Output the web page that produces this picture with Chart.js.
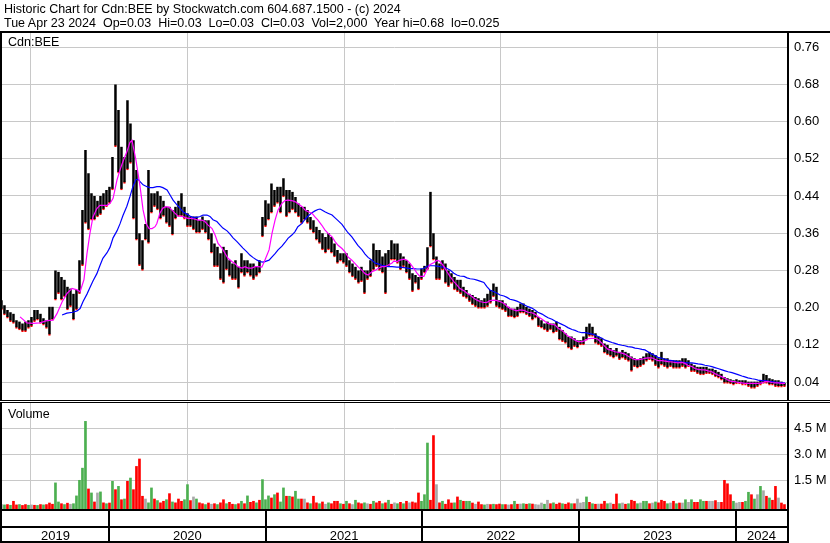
<!DOCTYPE html>
<html><head><meta charset="utf-8">
<script src="https://cdn.jsdelivr.net/npm/chart.js@4/dist/chart.umd.min.js"></script>
<style>
html,body{margin:0;padding:0;background:#fff;}
#wrap{position:relative;width:830px;height:543px;overflow:hidden;font-family:"Liberation Sans",Arial,sans-serif;color:#000;}
#c{position:absolute;left:0;top:0;}
.t{position:absolute;white-space:pre;font-size:12.5px;line-height:14px;}
</style></head><body>
<div id="wrap">
<canvas id="c" width="830" height="543"></canvas>
<div class="t" style="left:4px;top:2px">Historic Chart for Cdn:BEE by Stockwatch.com 604.687.1500 - (c) 2024</div>
<div class="t" style="left:4px;top:15.5px">Tue Apr 23 2024  Op=0.03  Hi=0.03  Lo=0.03  Cl=0.03  Vol=2,000  Year hi=0.68  lo=0.025</div>
<div class="t" style="left:8px;top:34.5px">Cdn:BEE</div>
<div class="t" style="left:8px;top:406.5px">Volume</div>
</div>
<script>
// ---- data (weekly bars, week 0 = late April 2019) ----
const START_YEAR = 2019.314;
const WEEKS_PER_YEAR = 52.25;
const yearStarts = [2020, 2021, 2022, 2023, 2024];
const yearLabels = ['2019', '2020', '2021', '2022', '2023', '2024'];
const priceTicks = [0.04,0.08,0.12,0.16,0.20,0.24,0.28,0.32,0.36,0.40,0.44,0.48,0.52,0.56,0.60,0.64,0.68,0.72,0.76];
const volumeTicks = [1.5, 3.0, 4.5]; // millions

const weeklyHigh = [
 .216,.205,.195,.190,.187,.173,.170,.166,.170,.173,
 .180,.195,.195,.187,.177,.173,.202,.202,.280,.277,
 .266,.260,.245,.241,.230,.238,.302,.410,.539,.489,
 .446,.440,.430,.440,.446,.453,.460,.524,.680,.625,
 .546,.524,.646,.596,.560,.496,.360,.345,.380,.496,
 .446,.446,.450,.440,.430,.417,.417,.410,.417,.430,
 .446,.417,.403,.396,.396,.396,.388,.396,.388,.388,
 .360,.338,.331,.317,.331,.324,.302,.295,.302,.288,
 .317,.302,.302,.295,.295,.288,.302,.395,.431,.424,
 .467,.453,.460,.460,.478,.453,.453,.449,.438,.424,
 .417,.417,.410,.395,.388,.374,.367,.360,.352,.360,
 .352,.338,.324,.317,.317,.317,.302,.295,.288,.280,
 .288,.280,.280,.302,.338,.324,.324,.310,.317,.324,
 .345,.338,.338,.317,.310,.302,.295,.274,.270,.266,
 .284,.290,.330,.449,.360,.310,.295,.302,.295,.280,
 .274,.266,.260,.260,.245,.238,.230,.227,.223,.220,
 .216,.220,.230,.238,.252,.245,.216,.216,.209,.202,
 .198,.198,.202,.209,.209,.202,.198,.195,.191,.180,
 .173,.166,.170,.166,.166,.170,.159,.152,.145,.138,
 .138,.134,.130,.130,.138,.159,.166,.159,.145,.138,
 .134,.123,.120,.113,.109,.113,.105,.109,.105,.102,
 .095,.091,.088,.091,.095,.102,.105,.102,.098,.091,
 .105,.091,.091,.087,.087,.087,.087,.091,.091,.087,
 .080,.076,.073,.073,.073,.073,.069,.069,.066,.062,
 .058,.051,.048,.046,.044,.046,.044,.044,.044,.041,
 .041,.041,.041,.044,.058,.055,.048,.046,.044,.044,
 .041,.038];
const weeklyLow = [
 .195,.184,.177,.170,.166,.155,.152,.148,.148,.155,
 .159,.170,.173,.166,.162,.155,.140,.173,.216,.230,
 .216,.223,.195,.202,.173,.195,.230,.290,.381,.367,
 .388,.388,.395,.400,.410,.417,.424,.453,.546,.489,
 .453,.467,.496,.510,.390,.345,.290,.280,.345,.338,
 .403,.417,.410,.390,.396,.381,.374,.356,.390,.396,
 .396,.390,.374,.374,.367,.360,.360,.367,.360,.345,
 .317,.288,.288,.260,.252,.281,.267,.260,.260,.241,
 .274,.267,.274,.267,.260,.267,.274,.352,.374,.388,
 .403,.417,.424,.403,.438,.395,.403,.410,.403,.395,
 .381,.388,.381,.367,.360,.345,.338,.324,.317,.324,
 .317,.309,.295,.300,.295,.288,.274,.266,.260,.252,
 .256,.230,.260,.266,.280,.288,.280,.274,.230,.288,
 .302,.302,.295,.281,.288,.274,.260,.234,.252,.238,
 .260,.274,.281,.330,.302,.260,.260,.281,.252,.245,
 .252,.238,.234,.230,.223,.220,.213,.206,.202,.198,
 .198,.198,.202,.209,.223,.202,.198,.195,.191,.180,
 .180,.177,.180,.188,.188,.184,.180,.173,.177,.159,
 .156,.152,.148,.152,.145,.148,.130,.127,.123,.113,
 .109,.116,.113,.120,.120,.130,.138,.138,.123,.120,
 .116,.102,.098,.095,.091,.095,.088,.091,.088,.084,
 .063,.073,.070,.073,.077,.084,.088,.084,.075,.069,
 .076,.073,.069,.073,.069,.069,.069,.073,.069,.073,
 .062,.062,.058,.055,.055,.058,.058,.055,.051,.048,
 .044,.037,.037,.036,.033,.036,.036,.033,.033,.030,
 .026,.026,.030,.033,.037,.037,.033,.033,.030,.029,
 .029,.030];

// moving averages: [week, price]
const fastMA = [[6.2,.180],[8.5,.167],[10.5,.166],[12.8,.167],[15.2,.172],[17.2,.173],[18.5,.187],[20.2,.212],[21.8,.230],[23.5,.241],[25.2,.238],[26.2,.234],[27.5,.260],[28.5,.316],[29.5,.360],[30.5,.395],[31.8,.413],[32.8,.420],[33.8,.420],[35.2,.420],[36.2,.424],[37.2,.435],[38.5,.474],[39.5,.496],[40.5,.514],[41.8,.535],[42.8,.555],[43.5,.560],[44.8,.518],[46.2,.460],[47.2,.410],[48.2,.381],[49.2,.370],[50.2,.370],[51.2,.374],[51.8,.381],[52.8,.403],[53.8,.414],[54.8,.417],[55.8,.416],[56.8,.410],[57.8,.403],[58.8,.397],[60.2,.396],[61.2,.394],[62.2,.392],[63.5,.392],[64.5,.390],[65.5,.388],[66.8,.388],[67.8,.385],[68.8,.378],[70.2,.370],[71.2,.356],[72.2,.338],[73.5,.328],[74.5,.317],[75.5,.306],[76.8,.299],[77.8,.295],[78.8,.288],[80.2,.285],[81.2,.288],[82.2,.285],[83.5,.285],[84.5,.288],[85.5,.288],[86.8,.287],[87.8,.302],[89.2,.324],[90.2,.360],[91.2,.388],[92.2,.410],[93.5,.424],[94.5,.430],[95.5,.431],[96.8,.430],[97.8,.428],[98.8,.424],[100.2,.417],[101.2,.410],[102.2,.406],[103.5,.403],[104.5,.395],[105.5,.388],[106.8,.377],[107.8,.367],[108.8,.360],[110.2,.352],[111.2,.342],[112.2,.334],[113.5,.327],[114.5,.320],[115.5,.309],[116.8,.302],[117.8,.295],[118.8,.288],[120.2,.280],[121.2,.273],[122.2,.270],[123.5,.277],[124.5,.280],[125.5,.284],[126.8,.288],[127.8,.288],[128.8,.291],[130.2,.296],[130.8,.300],[131.8,.299],[132.8,.302],[134.2,.304],[135.2,.302],[136.2,.295],[137.5,.284],[138.5,.274],[139.5,.267],[140.8,.267],[141.8,.281],[142.8,.292],[144.2,.297],[145.2,.302],[146.2,.299],[147.5,.288],[148.5,.277],[149.5,.267],[150.8,.256],[151.8,.249],[152.8,.241],[154.2,.236],[155.2,.231],[156.2,.227],[157.5,.220],[158.5,.216],[159.5,.213],[160.8,.211],[161.8,.211],[162.8,.215],[164.2,.216],[165.2,.215],[166.2,.213],[167.5,.209],[168.5,.203],[169.5,.198],[170.8,.195],[171.8,.193],[172.8,.195],[174.2,.194],[175.5,.190],[176.8,.189],[177.8,.186],[178.8,.181],[180.2,.175],[181.2,.170],[182.2,.166],[183.5,.164],[184.5,.163],[185.5,.156],[186.8,.151],[187.8,.145],[188.8,.139],[190.2,.134],[191.2,.130],[192.2,.127],[193.5,.127],[194.5,.129],[195.5,.133],[196.8,.134],[197.8,.134],[198.8,.132],[200.2,.123],[201.2,.116],[202.2,.110],[203.5,.108],[204.5,.105],[205.5,.104],[206.8,.102],[207.8,.100],[208.8,.096],[210.2,.091],[211.2,.088],[212.2,.088],[213.5,.089],[214.5,.091],[215.5,.092],[216.8,.092],[217.8,.089],[218.8,.086],[220.2,.086],[221.2,.085],[222.2,.084],[223.5,.083],[224.5,.082],[225.5,.081],[226.8,.082],[227.8,.080],[228.8,.076],[230.2,.073],[231.2,.069],[232.2,.067],[233.5,.066],[234.5,.066],[235.5,.064],[236.8,.062],[237.8,.058],[238.8,.055],[240.2,.051],[241.2,.048],[242.2,.044],[243.5,.041],[244.5,.041],[245.5,.039],[246.8,.038],[247.8,.037],[248.8,.037],[250.2,.037],[251.2,.037],[252.2,.037],[253.5,.038],[254.5,.041],[255.5,.041],[256.8,.039],[257.8,.038],[258.8,.038],[260.2,.037],[261.2,.037]];
const slowMA = [[20.2,.184],[21.8,.188],[23.8,.190],[25.2,.193],[26.2,.198],[27.2,.213],[28.5,.229],[29.5,.243],[30.5,.257],[31.8,.273],[32.8,.290],[33.8,.306],[35.2,.318],[36.2,.330],[37.2,.350],[38.5,.365],[39.5,.380],[40.5,.398],[41.8,.418],[42.8,.438],[43.8,.460],[44.8,.475],[45.5,.476],[46.2,.471],[47.2,.464],[48.5,.460],[49.5,.458],[50.5,.458],[51.8,.460],[52.8,.460],[53.8,.458],[55.2,.453],[56.2,.442],[57.2,.431],[58.5,.421],[59.5,.414],[60.5,.406],[61.8,.401],[62.8,.397],[63.8,.394],[65.2,.394],[66.2,.396],[67.2,.399],[68.5,.399],[69.5,.396],[70.5,.389],[71.8,.385],[72.8,.378],[73.8,.371],[75.2,.365],[76.2,.358],[77.2,.350],[78.5,.342],[79.5,.335],[80.5,.328],[81.8,.320],[82.8,.313],[83.8,.308],[85.2,.302],[86.2,.299],[87.2,.298],[87.8,.299],[89.2,.302],[90.2,.309],[91.2,.316],[92.2,.324],[93.5,.332],[94.5,.340],[95.5,.349],[96.8,.356],[97.8,.363],[98.8,.374],[100.2,.381],[101.2,.390],[102.2,.397],[103.5,.404],[104.5,.408],[105.5,.411],[106.2,.412],[106.8,.410],[107.8,.406],[108.8,.403],[110.2,.399],[111.2,.393],[112.2,.387],[113.5,.379],[114.5,.370],[115.5,.361],[116.8,.352],[117.8,.343],[118.8,.334],[120.2,.324],[121.2,.315],[122.2,.308],[123.5,.302],[124.5,.296],[125.5,.294],[126.8,.291],[127.8,.290],[128.8,.288],[130.2,.288],[131.8,.287],[132.8,.287],[134.2,.286],[135.2,.285],[136.2,.284],[137.5,.284],[138.5,.283],[139.5,.283],[140.8,.284],[141.8,.289],[142.8,.290],[144.2,.290],[145.2,.289],[146.2,.288],[147.5,.287],[148.5,.284],[149.5,.281],[150.8,.274],[151.8,.270],[152.8,.268],[154.2,.267],[155.2,.264],[156.2,.262],[157.5,.261],[158.5,.259],[159.5,.257],[160.8,.254],[161.8,.245],[162.8,.238],[164.2,.234],[165.2,.231],[166.2,.227],[167.5,.225],[168.5,.222],[169.5,.218],[170.8,.216],[171.8,.214],[172.8,.211],[174.2,.206],[175.5,.202],[176.8,.199],[177.8,.195],[178.8,.190],[180.2,.186],[181.2,.182],[182.2,.178],[183.5,.175],[184.5,.171],[185.5,.168],[186.8,.164],[187.8,.161],[188.8,.157],[190.2,.153],[191.2,.151],[192.2,.148],[193.5,.146],[194.5,.146],[195.5,.145],[196.8,.143],[197.8,.141],[198.8,.138],[200.2,.134],[201.2,.130],[202.2,.128],[203.5,.125],[204.5,.123],[205.5,.121],[206.8,.119],[207.8,.118],[208.8,.116],[210.2,.115],[211.2,.113],[212.2,.112],[213.5,.110],[214.5,.109],[215.5,.105],[216.8,.100],[217.8,.097],[218.8,.093],[220.2,.091],[221.2,.089],[222.2,.087],[223.5,.086],[224.5,.085],[225.5,.084],[226.8,.083],[227.8,.082],[228.8,.081],[230.2,.081],[231.2,.080],[232.2,.079],[233.5,.078],[234.5,.076],[235.5,.075],[236.8,.073],[237.8,.071],[238.8,.069],[240.2,.066],[241.2,.064],[242.2,.062],[243.5,.060],[244.5,.058],[245.5,.056],[246.8,.053],[247.8,.051],[248.8,.049],[250.2,.047],[251.2,.046],[252.2,.044],[253.5,.043],[254.5,.043],[255.5,.042],[256.8,.041],[257.8,.040],[258.8,.039],[260.2,.038],[261.2,.038]];

// weekly peak volume (millions) and direction: u = up, d = down, n = unchanged
const weeklyVolume = [
 .10,.08,.10,.06,.29,.08,.10,.05,.10,.06,
 .08,.06,.05,.10,.08,.10,.19,.12,1.35,.25,
 .15,.10,.18,.12,.15,.60,1.50,2.20,4.90,1.00,
 .77,.25,.77,.83,.20,.15,.19,1.44,.96,1.15,
 .38,.42,1.44,1.63,.96,2.30,2.73,.58,.42,.20,
 1.06,.42,.33,.20,.29,.38,.73,.25,.20,.42,
 .29,.38,1.25,.33,.54,.42,.20,.15,.10,.19,
 .12,.15,.10,.20,.38,.15,.23,.12,.10,.15,
 .29,.15,.60,.23,.29,.20,.35,1.54,.38,.60,
 .48,.67,.77,.25,1.06,.58,.58,.54,.87,.42,
 .42,.42,.20,.15,.58,.20,.15,.25,.12,.20,
 .15,.29,.29,.15,.12,.29,.15,.10,.35,.20,
 .15,.20,.15,.12,.29,.20,.29,.15,.20,.35,
 .12,.20,.15,.23,.15,.29,.20,.25,.20,.77,
 .29,.67,3.65,.35,4.08,1.25,.20,.29,.12,.38,
 .19,.20,.54,.35,.29,.29,.29,.19,.12,.25,
 .10,.08,.12,.10,.12,.10,.13,.10,.10,.08,
 .10,.29,.12,.13,.15,.12,.15,.13,.10,.08,
 .19,.12,.35,.15,.20,.12,.19,.15,.12,.20,
 .15,.15,.42,.19,.23,.54,.23,.15,.12,.13,
 .13,.29,.15,.19,.12,.71,.15,.19,.12,.15,
 .35,.29,.15,.19,.29,.29,.15,.19,.25,.20,
 .35,.29,.15,.19,.29,.15,.19,.19,.38,.23,
 .38,.23,.23,.38,.29,.29,.29,.29,.33,.23,
 .23,1.50,1.30,.67,.29,.19,.23,.23,.29,.81,
 .67,.42,.67,1.15,.90,.58,.48,.35,1.15,.48,
 .19,.10];
const weeklyDirection = [
 'n','u','d','u','d','d','u','d','d','u',
 'n','d','u','d','u','d','d','d','u','u',
 'd','u','d','n','u','u','u','u','u','d',
 'u','d','n','u','d','u','d','u','d','u',
 'd','u','d','u','d','d','d','d','n','u',
 'u','d','u','d','d','u','d','u','d','d',
 'd','u','u','d','n','u','d','d','u','d',
 'n','d','u','d','d','u','d','d','u','d',
 'u','d','u','d','d','u','d','u','u','u',
 'd','u','d','u','u','d','u','d','u','u',
 'd','n','d','u','d','d','u','d','n','u',
 'd','d','d','u','d','u','d','n','u','d',
 'd','u','n','d','u','d','d','u','d','u',
 'd','n','u','d','u','d','n','d','d','d',
 'u','u','u','d','d','n','d','u','d','d',
 'd','u','d','u','d','u','u','d','n','d',
 'd','u','n','d','u','d','d','u','d','n',
 'd','u','d','n','u','d','u','d','n','n',
 'n','u','n','d','u','d','d','u','d','d',
 'u','d','n','n','n','u','d','u','d','n',
 'd','d','u','n','d','d','u','n','d','u',
 'd','d','u','n','u','u','d','n','u','d',
 'd','d','u','n','d','u','d','n','u','n',
 'u','d','d','u','u','d','n','n','d','n',
 'd','d','d','d','u','n','n','d','u','u',
 'd','u','n','u','n','d','u','d','d','n',
 'd','d'];

// ---- geometry of the two panels ----
const X_MIN = 2019.3174, X_MAX = 2024.3254;
const P_MIN = -0.003, P_MAX = 0.7905;
const V_MIN = -0.2135, V_MAX = 6.017;
const weekToYear = w => START_YEAR + w / WEEKS_PER_YEAR;
const dirColor = {u:'#4caf50', d:'#ff0000', n:'#a8a8a8'};
const FONT = '"Liberation Sans", Arial, sans-serif';
const GRID = '#c8c8c8';

const frame = {
  id: 'frame',
  afterDraw(chart) {
    const {ctx, chartArea: a, scales: {x}} = chart;
    const W = chart.width, H = chart.height;
    ctx.save();
    ctx.fillStyle = '#000';
    ctx.fillRect(0, 31, W, 2);            // header rule
    ctx.fillRect(0, 31, 2, H - 31);       // left frame
    ctx.fillRect(a.right, 33, 2, H - 33); // right frame (axis)
    ctx.fillStyle = '#fff';
    ctx.fillRect(0, 401, W, 1);
    ctx.fillStyle = '#000';
    ctx.fillRect(0, 400, W, 1);           // panel divider (double)
    ctx.fillRect(0, 402, W, 1);
    ctx.fillRect(0, a.bottom - 1, a.right + 2, 2);
    ctx.fillRect(0, 526, a.right + 2, 2);
    ctx.fillRect(0, H - 2, a.right + 2, 2);
    yearStarts.forEach(yv => {
      const px = Math.round(x.getPixelForValue(yv));
      ctx.fillRect(px - 1, a.bottom, 2, H - a.bottom);
    });
    ctx.font = '13px ' + FONT;
    ctx.textAlign = 'center';
    ctx.textBaseline = 'alphabetic';
    const edges = [a.left].concat(yearStarts.map(v => x.getPixelForValue(v)), [a.right]);
    yearLabels.forEach((lab, i) => {
      ctx.fillText(lab, (edges[i] + edges[i + 1]) / 2, 540);
    });
    ctx.restore();
  }
};

new Chart(document.getElementById('c'), {
  data: {
    datasets: [
      { type: 'line', label: 'fast MA', yAxisID: 'y', order: 1,
        data: fastMA.map(([w, v]) => ({x: weekToYear(w), y: v})),
        borderColor: '#ff00ff', borderWidth: 1.2, pointRadius: 0, tension: 0 },
      { type: 'line', label: 'slow MA', yAxisID: 'y', order: 2,
        data: slowMA.map(([w, v]) => ({x: weekToYear(w), y: v})),
        borderColor: '#0000ff', borderWidth: 1.2, pointRadius: 0, tension: 0 },
      { type: 'bar', label: 'range', yAxisID: 'y', order: 3, grouped: false,
        data: weeklyHigh.map((h, i) => ({x: weekToYear(i), y: [weeklyLow[i], h]})),
        backgroundColor: '#000', barThickness: 2.5, minBarLength: 2,
        borderColor: '#ff0000', borderSkipped: false,
        borderWidth: { top: 0, left: 0, right: 0, bottom: 1.5 } },
      { type: 'bar', label: 'volume', yAxisID: 'v', order: 4, grouped: false,
        data: weeklyVolume.map((v, i) => ({x: weekToYear(i), y: v})),
        backgroundColor: weeklyDirection.map(d => dirColor[d]),
        barThickness: 2, base: V_MIN }
    ]
  },
  options: {
    responsive: false, animation: false, events: [],
    layout: { padding: { left: 2, top: 33, right: 0, bottom: 33 } },
    plugins: { legend: { display: false }, tooltip: { enabled: false } },
    scales: {
      x: { type: 'linear', min: X_MIN, max: X_MAX, offset: false,
           grid: { color: GRID, lineWidth: 1, drawTicks: false },
           border: { display: false }, ticks: { display: false },
           afterBuildTicks: s => { s.ticks = yearStarts.map(v => ({value: v})); },
           afterFit: s => { s.height = 0; } },
      y: { type: 'linear', position: 'right', stack: 'panels', stackWeight: 369,
           min: P_MIN, max: P_MAX,
           grid: { color: GRID, lineWidth: 1, drawTicks: false },
           border: { display: false },
           ticks: { color: '#000', font: { family: FONT, size: 13 }, padding: 7,
                    callback: v => v.toFixed(2) },
           afterBuildTicks: s => { s.ticks = priceTicks.map(v => ({value: v})); },
           afterFit: s => { s.width = 43; } },
      v: { type: 'linear', position: 'right', stack: 'panels', stackWeight: 108,
           min: V_MIN, max: V_MAX,
           grid: { color: GRID, lineWidth: 1, drawTicks: false },
           border: { display: false },
           ticks: { color: '#000', font: { family: FONT, size: 13 }, padding: 7,
                    callback: v => v.toFixed(1) + ' M' },
           afterBuildTicks: s => { s.ticks = volumeTicks.map(v => ({value: v})); },
           afterFit: s => { s.width = 43; } }
    }
  },
  plugins: [frame]
});
</script>
</body></html>
